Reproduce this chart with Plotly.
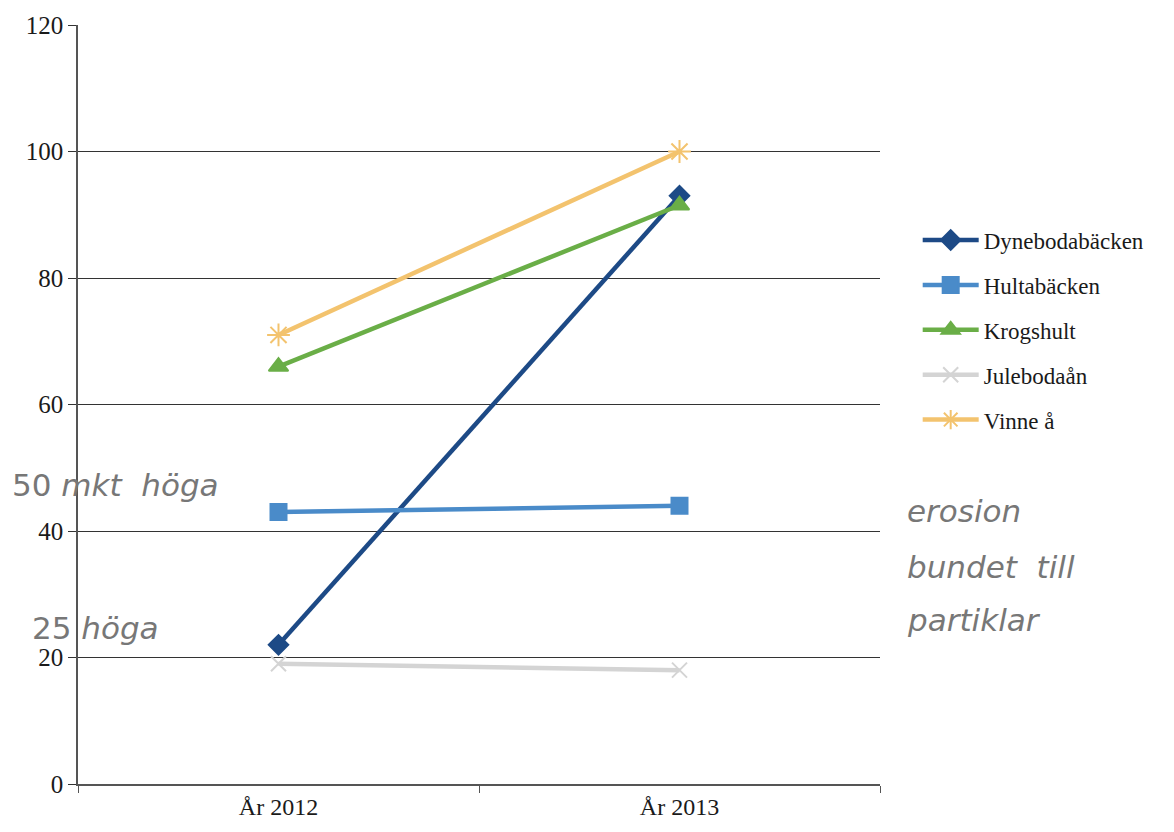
import plotly.graph_objects as go

categories = ["År 2012", "År 2013"]
series_names = ["Dynebodabäcken", "Hultabäcken", "Krogshult", "Julebodaån", "Vinne å"]
dyne = [22, 93]
hulta = [43, 44]
krog = [66, 91.5]
jule = [19, 18]
vinne = [71, 100]
y_ticks = [0, 20, 40, 60, 80, 100, 120]

values = [dyne, hulta, krog, jule, vinne]
colors = ["#1d4a86", "#4a8bc9", "#6aae47", "#d4d4d4", "#f3c36e"]
symbols = ["diamond", "square", "triangle-up", "x-thin-open", "asterisk-open"]
msizes = [15, 16, 17, 15, 19]

fig = go.Figure()
for name, vals, c, s, ms in zip(series_names, values, colors, symbols, msizes):
    fig.add_trace(go.Scatter(
        x=categories, y=vals, name=name, mode="lines+markers", legendgroup=name,
        line=dict(color=c, width=4.5),
        marker=dict(symbol=s, size=ms, color=c, line=dict(color=c, width=2)),
    ))

font_serif = "Liberation Serif, Times New Roman, serif"
fig.update_layout(
    width=1174, height=832,
    margin=dict(l=78, r=294, t=22, b=42),
    paper_bgcolor="white", plot_bgcolor="white",
    font=dict(family=font_serif, size=25, color="#1a1a1a"),
    showlegend=True,
    legend=dict(x=1.047, y=0.745, xanchor="left", yanchor="top",
                font=dict(family=font_serif, size=23, color="#1a1a1a"),
                itemwidth=56, tracegroupgap=12, bgcolor="rgba(0,0,0,0)"),
    xaxis=dict(type="category", showgrid=False, showline=True, linecolor="#555",
               linewidth=1.5, ticks="outside", tickson="boundaries", ticklen=7,
               tickcolor="#555", tickfont=dict(size=24), range=[-0.5, 1.5]),
    yaxis=dict(range=[0, 120], tickvals=y_ticks, showgrid=True, gridcolor="#333",
               gridwidth=1.2, showline=True, linecolor="#555", linewidth=1.5,
               ticks="outside", ticklen=8, tickcolor="#333", zeroline=False,
               tickfont=dict(size=25)),
)

hand = dict(family="DejaVu Sans, sans-serif", size=31, color="#777777")
notes = [
    ("50 <i>mkt  höga</i>", -0.085, 487),
    ("25 <i>höga</i>", -0.06, 632),
    ("<i>erosion</i>", 1.031, 514),
    ("<i>bundet  till</i>", 1.031, 570),
    ("<i>partiklar</i>", 1.031, 624),
]
for txt, xp, ypx in notes:
    fig.add_annotation(xref="paper", yref="paper", x=xp, y=(790 - ypx) / 768,
                       text=txt, showarrow=False, xanchor="left", yanchor="middle",
                       align="left", font=hand)

fig.write_html("out.html")
